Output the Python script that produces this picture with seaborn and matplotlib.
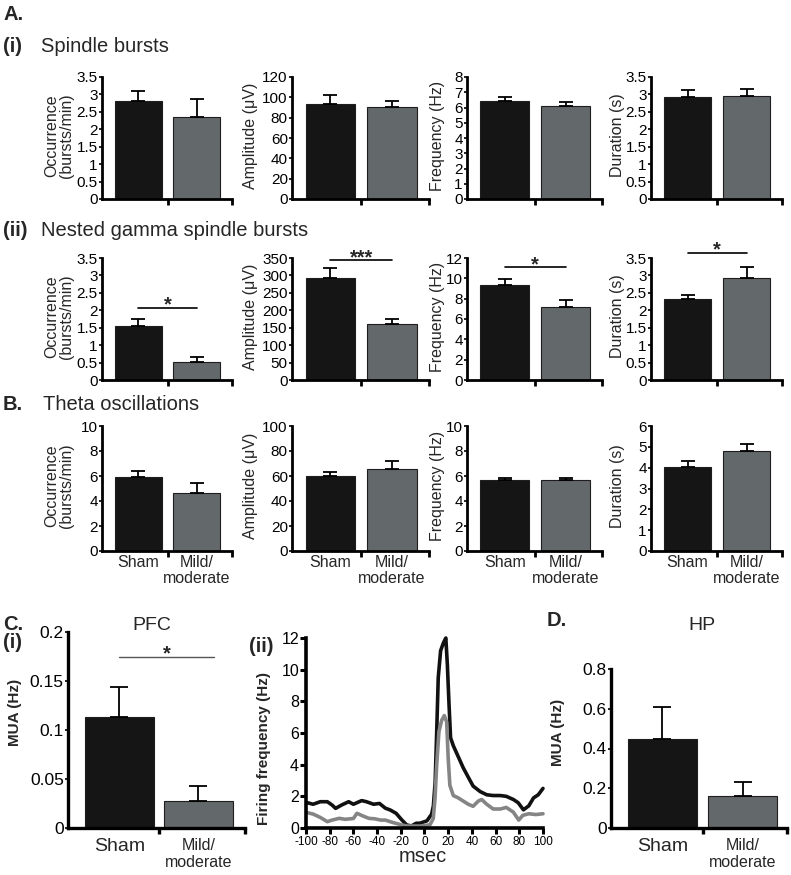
"""
Spindle / gamma / theta oscillation summary and MUA panels (Sham vs Mild/moderate).
Writes out.png.
"""

import matplotlib

matplotlib.use("Agg")
import matplotlib.pyplot as plt
import numpy as np
import seaborn as sns

# --- Data ---
GROUPS = ["Sham", "Mild/\nmoderate"]
METRIC_LABELS = ["Occurrence\n(bursts/min)", "Amplitude (μV)", "Frequency (Hz)", "Duration (s)"]

# A(i) spindle bursts: [sham, mild] per metric
spindle_means = [[2.81, 2.36], [93.4, 90.8], [6.42, 6.12], [2.92, 2.95]]
spindle_sems = [[0.29, 0.51], [8.6, 6.0], [0.25, 0.25], [0.22, 0.22]]
spindle_ymax = [3.5, 120, 8, 3.5]
spindle_ystep = [0.5, 20, 1, 0.5]

# A(ii) nested gamma spindle bursts
gamma_means = [[1.55, 0.51], [294, 160], [9.33, 7.2], [2.31, 2.94]]
gamma_sems = [[0.21, 0.14], [26, 15], [0.65, 0.65], [0.12, 0.30]]
gamma_ymax = [3.5, 350, 12, 3.5]
gamma_ystep = [0.5, 50, 2, 0.5]
gamma_sig_y = [2.07, 343, 11.1, 3.65]
gamma_sig_text = ["*", "***", "*", "*"]

# B theta oscillations
theta_means = [[5.92, 4.67], [60.0, 65.9], [5.65, 5.65], [4.03, 4.8]]
theta_sems = [[0.48, 0.77], [3.2, 6.1], [0.16, 0.16], [0.29, 0.35]]
theta_ymax = [10, 100, 10, 6]
theta_ystep = [2, 20, 2, 1]

# C(i) PFC and D HP multi-unit activity
pfc_mua = [0.1136, 0.0278]
pfc_sem = [0.0305, 0.0146]
pfc_sig_y = 0.1746
hp_mua = [0.448, 0.163]
hp_sem = [0.161, 0.067]

# C(ii) firing frequency around event onset
sham_ms = [-99, -94, -88, -82, -78, -75, -70, -64, -60, -53, -49, -43, -38, -33, -29,
           -24, -19, -15, -11, -7, -4, 2, 6, 7.5, 9, 10.3, 11.6, 13.6, 16, 18, 19.3,
           20.7, 22, 24.3, 28.5, 32.7, 37, 41, 47, 52.5, 58, 64, 69, 75, 79, 83.5, 88,
           92, 96, 100]
sham_rate = [1.6, 1.5, 1.66, 1.66, 1.45, 1.24, 1.45, 1.66, 1.5, 1.73, 1.66, 1.5, 1.55,
             1.25, 1.14, 0.93, 0.5, 0.19, 0.13, 0.3, 0.3, 0.45, 0.87, 1.4, 2.9, 6.1, 9.5,
             11.2, 11.7, 12.0, 10.3, 7.8, 5.7, 5.2, 4.5, 3.8, 3.2, 2.65, 2.3, 2.1, 2.05,
             2.05, 2.0, 1.8, 1.6, 1.15, 1.4, 1.9, 2.1, 2.5]
mild_ms = [-99, -94, -88, -82, -78, -72, -67, -60, -57, -52, -47, -42, -37, -33, -29,
           -24, -19, -15, -4, 4.6, 7.4, 8.9, 10.3, 12.2, 14.5, 16.7, 18.7, 20, 21.4,
           24.3, 28.5, 32.7, 37, 41, 45.4, 48.2, 52.5, 58, 64, 69, 75, 79.5, 83, 88, 94,
           100]
mild_rate = [0.97, 0.88, 0.67, 0.4, 0.5, 0.61, 0.55, 0.6, 0.93, 0.76, 0.61, 0.58, 0.5,
             0.5, 0.4, 0.29, 0.19, 0.13, 0.12, 0.2, 0.6, 1.9, 4.0, 6.1, 6.8, 7.1, 6.7,
             4.4, 2.7, 2.05, 1.9, 1.7, 1.5, 1.37, 1.7, 1.8, 1.5, 1.2, 1.2, 1.3, 1.0, 0.5,
             0.8, 0.9, 0.85, 0.9]

# --- Style ---
BAR_COLORS = ["#151515", "#62686c"]
LINE_COLORS = ["#111111", "#858585"]
EDGE = "#1e1e1e"
W, H = 791, 875

sns.set_theme(style="ticks")
plt.rcParams["font.family"] = ["Liberation Sans", "DejaVu Sans"]
plt.rcParams["axes.unicode_minus"] = False

fig = plt.figure(figsize=(W / 100, H / 100), dpi=100)


def place(l, t, r, b):
    """Axes from pixel edges (left, top, right, bottom)."""
    return fig.add_axes([l / W, 1 - b / H, (r - l) / W, (b - t) / H])


def ftext(x, y, s, **kw):
    kw.setdefault("va", "center")
    fig.text(x / W, 1 - y / H, s, **kw)


def bar_panel(ax, means, sems, ymax, ystep, xlim=(-0.62, 1.6), width=0.8, cap=5,
              tick_fs=11, spine_lw=2.0):
    sns.barplot(x=GROUPS, y=means, hue=GROUPS, palette=BAR_COLORS, legend=False,
                width=width, edgecolor=EDGE, linewidth=0.8, errorbar=None, ax=ax)
    ax.errorbar([0, 1], means, yerr=[[0, 0], sems], fmt="none", ecolor="black",
                elinewidth=1.3, capsize=cap, capthick=1.3, zorder=3)
    ax.set_xlim(*xlim)
    ax.set_ylim(0, ymax)
    ticks = np.arange(0, ymax + ystep / 2, ystep)
    ax.set_yticks(ticks)
    ax.set_yticklabels([f"{v:g}" for v in ticks])
    ax.set_xticks([0.5, xlim[1]])
    ax.set_xticklabels(["", ""])
    ax.set_xlabel("")
    ax.set_ylabel("")
    for side in ["top", "right"]:
        ax.spines[side].set_visible(False)
    for side in ["left", "bottom"]:
        ax.spines[side].set_linewidth(spine_lw)
        ax.spines[side].set_color("black")
    ax.tick_params(axis="y", length=2.5, width=1.2, pad=0.5, labelsize=tick_fs,
                   colors="black")
    ax.tick_params(axis="x", which="major", length=4, width=spine_lw, colors="black")
    ax.set_facecolor("none")


def group_labels(ax, sizes, pad=2, spacing=1.0):
    ax.set_xticks([0, 1], minor=True)
    ax.set_xticklabels(GROUPS, minor=True)
    ax.tick_params(axis="x", which="minor", length=0, pad=pad)
    for lab, fs in zip(ax.get_xticklabels(minor=True), sizes):
        lab.set_fontsize(fs)
        lab.set_linespacing(spacing)


def sig_bar(ax, y, text, x0=0, x1=1, color="black", lw=1.2):
    ax.plot([x0, x1], [y, y], color=color, lw=lw, clip_on=False, zorder=4)
    ax.annotate(text, ((x0 + x1) / 2, y), xytext=(0, -2), textcoords="offset points",
                ha="center", va="baseline", fontsize=14.5, fontweight="bold",
                annotation_clip=False)


COL_X = [(102, 232), (292, 429), (467, 602), (651, 782)]
LABEL_X = [-0.215, -0.248, -0.163, -0.2]

rows = [
    ((77, 199), spindle_means, spindle_sems, spindle_ymax, spindle_ystep),
    ((258, 380), gamma_means, gamma_sems, gamma_ymax, gamma_ystep),
    ((426, 551), theta_means, theta_sems, theta_ymax, theta_ystep),
]

for r, (ys, means, sems, ymaxs, ysteps) in enumerate(rows):
    for c, (x0, x1) in enumerate(COL_X):
        ax = place(x0, ys[0], x1, ys[1])
        bar_panel(ax, means[c], sems[c], ymaxs[c], ysteps[c])
        ax.set_ylabel(METRIC_LABELS[c], fontsize=11.5, linespacing=1.0)
        ax.yaxis.set_label_coords(LABEL_X[c], 0.52)
        if r == 1:
            sig_bar(ax, gamma_sig_y[c], gamma_sig_text[c])
        if r == 2:
            group_labels(ax, [11.5, 11.5], pad=3, spacing=1.05)

# Section headings
ftext(3, 15, "A.", fontsize=14.5, fontweight="bold")
ftext(3, 47, "(i)", fontsize=14.5, fontweight="bold")
ftext(41, 47, "Spindle bursts", fontsize=14.5)
ftext(3, 231, "(ii)", fontsize=14.5, fontweight="bold")
ftext(41, 231, "Nested gamma spindle bursts", fontsize=14.5)
ftext(3, 404, "B.", fontsize=14.5, fontweight="bold")
ftext(43, 404, "Theta oscillations", fontsize=14.5)

# C(i) PFC MUA
ax_pfc = place(68, 632, 245, 828)
bar_panel(ax_pfc, pfc_mua, pfc_sem, 0.2, 0.05, xlim=(-0.65, 1.59), width=0.87, cap=6.5,
          tick_fs=12.5, spine_lw=2.4)
group_labels(ax_pfc, [14, 11.5], pad=7, spacing=1.15)
ax_pfc.set_ylabel("MUA (Hz)", fontsize=11, fontweight="bold")
ax_pfc.yaxis.set_label_coords(-0.26, 0.59)
sig_bar(ax_pfc, pfc_sig_y, "*", x0=0, x1=1.2, color="#555555", lw=1.0)

# C(ii) firing frequency traces
ax_fr = place(306, 638, 543, 828)
sns.lineplot(x=sham_ms, y=sham_rate, color=LINE_COLORS[0], linewidth=2.6, ax=ax_fr,
             clip_on=False)
sns.lineplot(x=mild_ms, y=mild_rate, color=LINE_COLORS[1], linewidth=2.6, ax=ax_fr,
             clip_on=False)
ax_fr.set_xlim(-100, 100)
ax_fr.set_ylim(0, 12)
ax_fr.set_xticks(np.arange(-100, 101, 20))
ax_fr.set_xticklabels([str(v) for v in range(-100, 101, 20)])
ax_fr.set_yticks(np.arange(0, 13, 2))
for side in ["top", "right"]:
    ax_fr.spines[side].set_visible(False)
for side in ["left", "bottom"]:
    ax_fr.spines[side].set_linewidth(2.6)
    ax_fr.spines[side].set_color("black")
ax_fr.tick_params(axis="x", length=4, width=2.2, pad=1.5, labelsize=8.5, colors="black")
ax_fr.tick_params(axis="y", length=4, width=2.2, pad=1, labelsize=11.5, colors="black")
ax_fr.set_xlabel("")
ax_fr.set_ylabel("Firing frequency (Hz)", fontsize=11, fontweight="bold")
ax_fr.yaxis.set_label_coords(-0.148, 0.42)
ax_fr.set_facecolor("none")

# D HP MUA
ax_hp = place(611, 669, 787, 828)
bar_panel(ax_hp, hp_mua, hp_sem, 0.8, 0.2, xlim=(-0.64, 1.55), width=0.86, cap=6.5,
          tick_fs=12.5, spine_lw=2.4)
group_labels(ax_hp, [14, 11.5], pad=7, spacing=1.15)
ax_hp.set_ylabel("MUA (Hz)", fontsize=11, fontweight="bold")
ax_hp.yaxis.set_label_coords(-0.26, 0.6)

# Bottom headings
ftext(3, 624, "C.", fontsize=14.5, fontweight="bold")
ftext(3, 643, "(i)", fontsize=14.5, fontweight="bold")
ftext(152, 626, "PFC", fontsize=14, ha="center")
ftext(274, 647, "(ii)", fontsize=14.5, fontweight="bold", ha="right")
ftext(423, 856, "msec", fontsize=14.5, ha="center")
ftext(547, 620, "D.", fontsize=14.5, fontweight="bold")
ftext(702, 625, "HP", fontsize=14, ha="center")

fig.savefig("out.png", dpi=100, facecolor="white")
